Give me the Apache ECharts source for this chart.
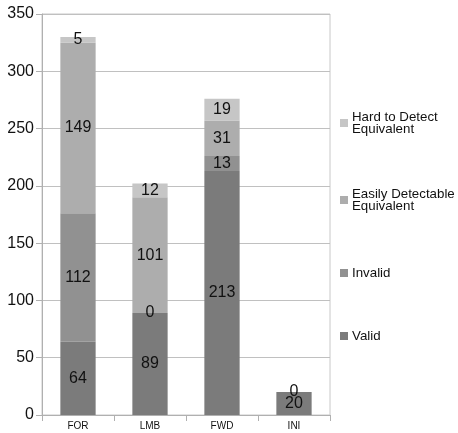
<!DOCTYPE html>
<html><head><meta charset="utf-8">
<script src="https://cdn.jsdelivr.net/npm/echarts@6/dist/echarts.min.js"></script>
<style>html,body{margin:0;padding:0;background:#fff}#c{width:458px;height:433px}</style>
</head><body><div id="c"></div>
<script>
const categories = ['FOR', 'LMB', 'FWD', 'INI'];
const valid = [64, 89, 213, 20];
const invalid = [112, 0, 13, 0];
const easily = [149, 101, 31, null];
const hard = [5, 12, 19, null];
const yTicks = [0, 50, 100, 150, 200, 250, 300, 350];

const names = ['Valid', 'Invalid', 'Easily Detectable Equivalent', 'Hard to Detect Equivalent'];
const legendText = {
  'Valid': 'Valid',
  'Invalid': 'Invalid',
  'Easily Detectable Equivalent': 'Easily Detectable\nEquivalent',
  'Hard to Detect Equivalent': 'Hard to Detect\nEquivalent'
};
const colors = ['#7b7b7b', '#919191', '#adadad', '#c6c6c6'];
const datas = [valid, invalid, easily, hard];
const legendTops = [319, 256, 180, 103];

const chart = echarts.init(document.getElementById('c'));
const font = 'Liberation Sans, Arial, sans-serif';
chart.setOption({
  animation: false,
  color: colors,
  grid: { left: 42, right: 128, top: 14, bottom: 18, show: true, borderColor: '#c8c8c8', borderWidth: 1 },
  xAxis: {
    type: 'category', data: categories,
    axisLine: { lineStyle: { color: '#b0b0b0' } },
    axisTick: { show: true, length: 6, lineStyle: { color: '#b0b0b0' } },
    axisLabel: { color: '#111', fontSize: 10, fontFamily: font, margin: 6 }
  },
  yAxis: {
    type: 'value', min: yTicks[0], max: yTicks[yTicks.length - 1], interval: 50,
    axisLine: { show: true, lineStyle: { color: '#b0b0b0' } },
    axisTick: { show: true, length: 6, lineStyle: { color: '#b0b0b0' } },
    splitLine: { lineStyle: { color: '#c0c0c0' } },
    axisLabel: { color: '#111', fontSize: 16, fontFamily: font, margin: 8 }
  },
  legend: names.map((n, i) => ({
    data: [n], orient: 'vertical', left: 335, top: legendTops[i],
    itemWidth: 8, itemHeight: 8, itemGap: 4, icon: 'rect',
    formatter: (name) => legendText[name],
    textStyle: { fontSize: 13.3, fontFamily: font, color: '#111', lineHeight: 12, padding: [0, 0, (i < 2 ? 12 : 6), -1] }
  })),
  series: names.map((n, i) => ({
    name: n, type: 'bar', stack: 'all', data: datas[i], barWidth: '49%',
    itemStyle: { color: colors[i] },
    label: {
      show: true, position: 'inside', fontSize: 16, fontFamily: font, color: '#111',
      formatter: (p) => p.value == null ? '' : String(p.value)
    }
  }))
});
</script></body></html>
